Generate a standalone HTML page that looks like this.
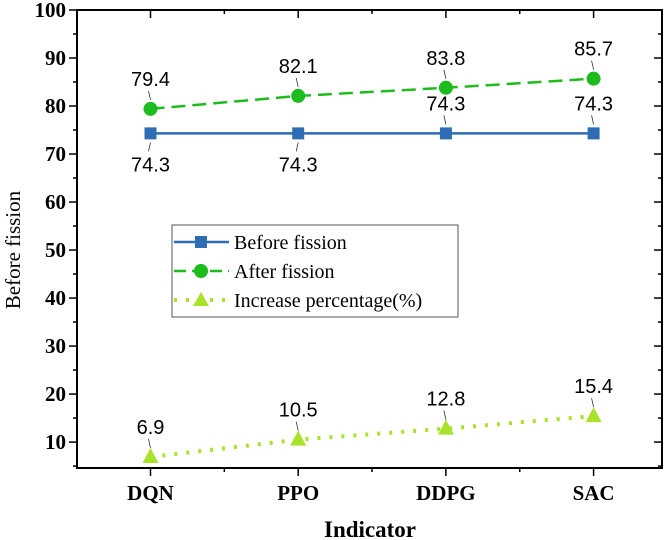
<!DOCTYPE html>
<html><head><meta charset="utf-8"><style>
html,body{margin:0;padding:0;background:#fff;}
svg{display:block;}
</style></head><body>
<svg id="chart" width="669" height="540" xmlns="http://www.w3.org/2000/svg">
</svg>
<script>
const categories = ["DQN","PPO","DDPG","SAC"];
const beforeVals = [74.3,74.3,74.3,74.3];
const afterVals = [79.4,82.1,83.8,85.7];
const increaseVals = [6.9,10.5,12.8,15.4];
const yTicks = [10,20,30,40,50,60,70,80,90,100];
const beforeLabelBelow = [true,true,false,false];

const NS="http://www.w3.org/2000/svg";
const svg=document.getElementById('chart');
const L=77,R=662,T=10,B=468;
const yMin=4.6,yMax=100;
const step=147.7;
function xs(i){return L+73.5+i*step;}
function ys(v){return B-(v-yMin)/(yMax-yMin)*(B-T);}
function el(tag,attrs,parent){const e=document.createElementNS(NS,tag);for(const k in attrs)e.setAttribute(k,attrs[k]);(parent||svg).appendChild(e);return e;}
const serif='"Liberation Serif", serif';
const sans='"Liberation Sans", sans-serif';

const frame=el('rect',{x:L,y:T,width:R-L,height:B-T,fill:'none',stroke:'#000','stroke-width':2});



yTicks.forEach(v=>{
  const y=ys(v);
  const t=el('line',{x1:L-8,x2:L,y1:y,y2:y,stroke:'#000','stroke-width':1.5});
  
  
  const t2=el('line',{x1:R-8,x2:R,y1:y,y2:y,stroke:'#000','stroke-width':1.5});
  
  
  const lab=el('text',{x:L-11,y:y+7,'text-anchor':'end','font-family':serif,'font-weight':'bold','font-size':21});
  lab.textContent=v;
  
  
  const m=v-5;
  if(m>yMin){const ym=ys(m);
    const mt=el('line',{x1:L-4,x2:L,y1:ym,y2:ym,stroke:'#000','stroke-width':1.5});
    
    
    const mt2=el('line',{x1:R-4,x2:R,y1:ym,y2:ym,stroke:'#000','stroke-width':1.5});
    
    
  }
});
categories.forEach((c,i)=>{
  const x=xs(i);
  const t=el('line',{x1:x,x2:x,y1:B,y2:B+8,stroke:'#000','stroke-width':1.5});
  
  
  const tt=el('line',{x1:x,x2:x,y1:T,y2:T+8,stroke:'#000','stroke-width':1.5});
  
  
  const lab=el('text',{x:x,y:B+32,'text-anchor':'middle','font-family':serif,'font-weight':'bold','font-size':21});
  lab.textContent=c;
  
  
});
for(let i=-1;i<categories.length;i++){
  const x=xs(i)+step/2;
  if(x<=L+1||x>=R-1)continue;
  const t=el('line',{x1:x,x2:x,y1:B,y2:B+4,stroke:'#000','stroke-width':1.5});
  
  
  const tt=el('line',{x1:x,x2:x,y1:T,y2:T+4,stroke:'#000','stroke-width':1.5});
  
  
}
const xt=el('text',{x:370,y:537,'text-anchor':'middle','font-family':serif,'font-weight':'bold','font-size':23});
xt.textContent='Indicator';


const yt=el('text',{x:0,y:0,'text-anchor':'middle','font-family':serif,'font-size':21,transform:'translate(20,'+ys(50)+') rotate(-90)'});
yt.textContent='Before fission';



function series(vals,color,dash,width,name){
  const pts=vals.map((v,i)=>xs(i)+','+ys(v)).join(' ');
  const p=el('polyline',{points:pts,fill:'none',stroke:color,'stroke-width':width,'stroke-dasharray':dash});
  
  
}
function label(x,yPoint,text,below,name){
  const off=below?1:-1;
  const ln=el('line',{x1:x,y1:yPoint+off*9,x2:x-2,y2:yPoint+off*18,stroke:'#333','stroke-width':0.8});
  
  
  const t=el('text',{x:x,y:below?yPoint+38:yPoint-23,'text-anchor':'middle','font-family':sans,'font-size':20});
  t.textContent=text;
  
  
}
series(beforeVals,'#2e6cb3','',2.5,'before-fission');
series(afterVals,'#1cbc1c','14 7',2.5,'after-fission');
series(increaseVals,'#a8e22a','3 9',4,'increase-percentage');

beforeVals.forEach((v,i)=>{
  const m=el('rect',{x:xs(i)-6,y:ys(v)-6,width:12,height:12,fill:'#2e6cb3'});
  
  
  label(xs(i),ys(v),v.toFixed(1),beforeLabelBelow[i],'before-fission-label');
});
afterVals.forEach((v,i)=>{
  const m=el('circle',{cx:xs(i),cy:ys(v),r:7,fill:'#1cbc1c'});
  
  
  label(xs(i),ys(v),v.toFixed(1),false,'after-fission-label');
});
increaseVals.forEach((v,i)=>{
  const x=xs(i),y=ys(v);
  const m=el('polygon',{points:(x)+','+(y-9)+' '+(x-8)+','+(y+6)+' '+(x+8)+','+(y+6),fill:'#a8e22a'});
  
  
  label(x,y,v.toFixed(1),false,'increase-percentage-label');
});

const lg=el('g',{});


el('rect',{x:172,y:225,width:286,height:92,fill:'#fff',stroke:'#555','stroke-width':1},lg);
const legendItems=[
 {name:'Before fission',color:'#2e6cb3',dash:'',w:2.5,m:'sq',y:242},
 {name:'After fission',color:'#1cbc1c',dash:'12 6',w:2.5,m:'ci',y:271},
 {name:'Increase percentage(%)',color:'#a8e22a',dash:'3 9',w:4,m:'tr',y:300}
];
legendItems.forEach(it=>{
  const g=el('g',{},lg);
  
  
  el('line',{x1:174,x2:229,y1:it.y,y2:it.y,stroke:it.color,'stroke-width':it.w,'stroke-dasharray':it.dash},g);
  const cx=201;
  if(it.m==='sq')el('rect',{x:cx-6,y:it.y-6,width:12,height:12,fill:it.color},g);
  if(it.m==='ci')el('circle',{cx:cx,cy:it.y,r:7,fill:it.color},g);
  if(it.m==='tr')el('polygon',{points:cx+','+(it.y-8)+' '+(cx-8)+','+(it.y+6)+' '+(cx+8)+','+(it.y+6),fill:it.color},g);
  const t=el('text',{x:234,y:it.y+7,'font-family':serif,'font-size':20},g);
  t.textContent=it.name;
});
</script>
</body></html>
